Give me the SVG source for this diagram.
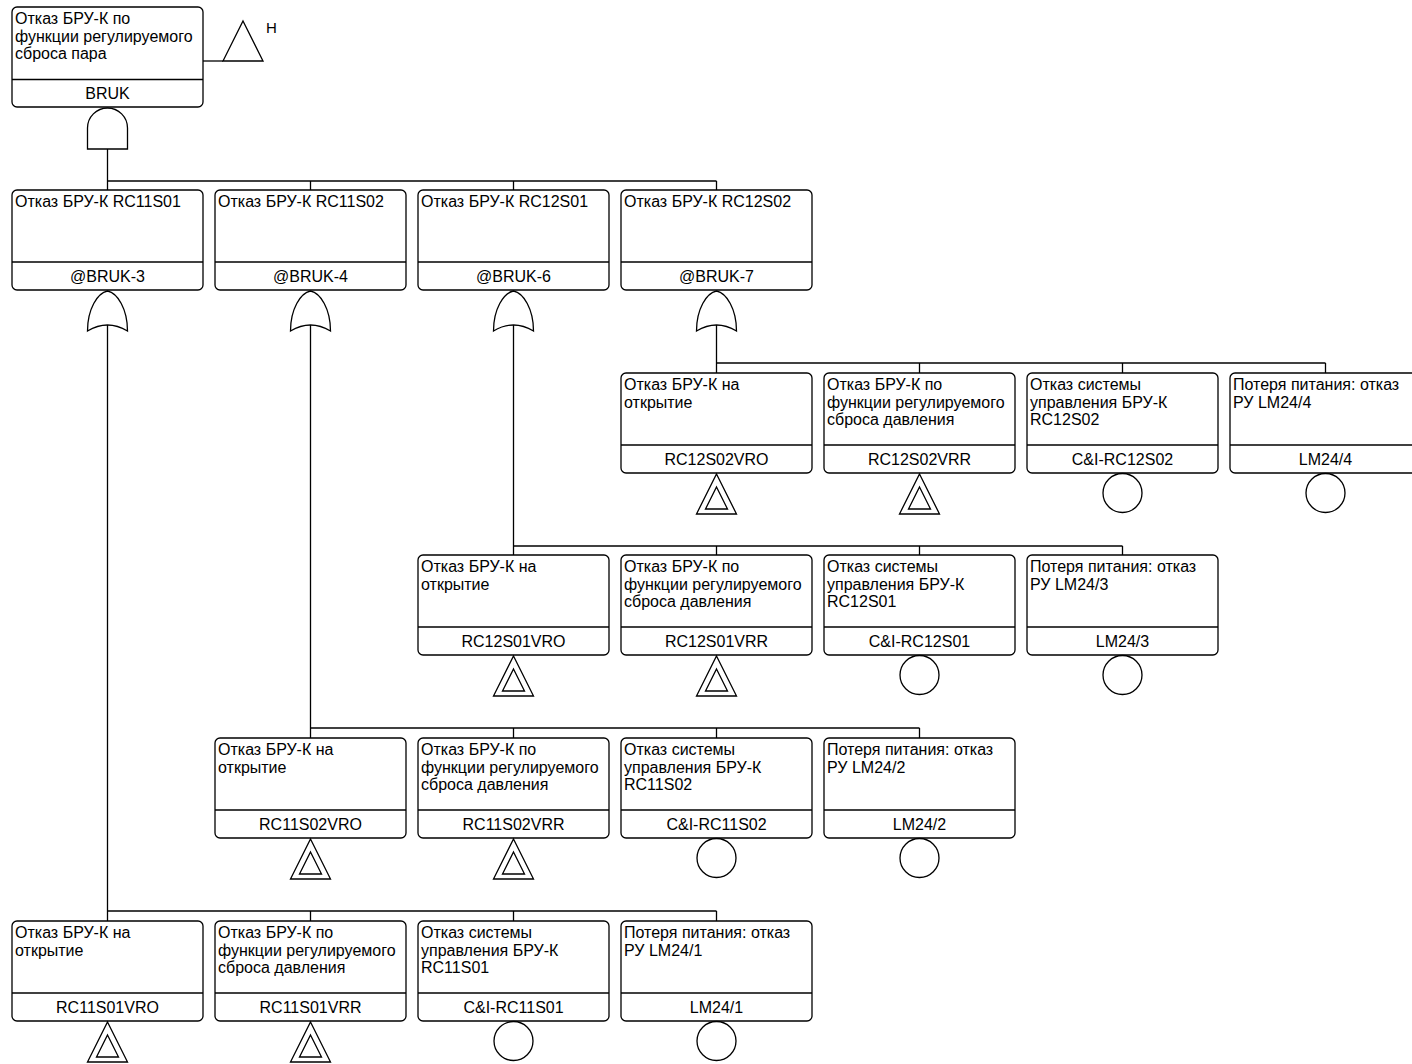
<svg xmlns="http://www.w3.org/2000/svg" xmlns:xlink="http://www.w3.org/1999/xlink" width="1412" height="1064" viewBox="0 0 1412 1064">
<style>
rect.b{fill:#fff;stroke:#000;stroke-width:1.3}
line,path,polygon,circle{fill:none;stroke:#000;stroke-width:1.3}
text{font-family:"Liberation Sans",Arial,sans-serif;font-size:16px;fill:#000}
text.c{text-anchor:middle}
</style>
<defs>
<path id="and" d="M-20,41 V20 A20,20 0 0 1 20,20 V41 Z"/>
<path id="or" d="M-20,40 C-20,18 -10,2 0,0 C10,2 20,18 20,40 Q0,28 -20,40 Z"/>
<g id="tin"><polygon points="0,0 20,40 -20,40"/><polygon points="0,13 11,35 -11,35"/></g>
<circle id="bas" cx="0" cy="20" r="19.5"/>
</defs>
<rect width="1412" height="1064" fill="#fff"/>
<g id="connectors">
<line x1="203" y1="61" x2="223" y2="61"/>
<line x1="107.5" y1="149" x2="107.5" y2="181"/>
<line x1="107.5" y1="181" x2="716.5" y2="181"/>
<line x1="310.5" y1="181" x2="310.5" y2="190"/>
<line x1="513.5" y1="181" x2="513.5" y2="190"/>
<line x1="716.5" y1="181" x2="716.5" y2="190"/>
<line x1="107.5" y1="181" x2="107.5" y2="190"/>
<line x1="107.5" y1="325" x2="107.5" y2="921"/>
<line x1="310.5" y1="325" x2="310.5" y2="738"/>
<line x1="513.5" y1="325" x2="513.5" y2="555"/>
<line x1="716.5" y1="325" x2="716.5" y2="373"/>
<line x1="716.5" y1="363" x2="1325.5" y2="363"/>
<line x1="919.5" y1="363" x2="919.5" y2="373"/>
<line x1="1122.5" y1="363" x2="1122.5" y2="373"/>
<line x1="1325.5" y1="363" x2="1325.5" y2="373"/>
<line x1="513.5" y1="546" x2="1122.5" y2="546"/>
<line x1="716.5" y1="546" x2="716.5" y2="555"/>
<line x1="919.5" y1="546" x2="919.5" y2="555"/>
<line x1="1122.5" y1="546" x2="1122.5" y2="555"/>
<line x1="310.5" y1="728" x2="919.5" y2="728"/>
<line x1="513.5" y1="728" x2="513.5" y2="738"/>
<line x1="716.5" y1="728" x2="716.5" y2="738"/>
<line x1="919.5" y1="728" x2="919.5" y2="738"/>
<line x1="107.5" y1="911" x2="716.5" y2="911"/>
<line x1="310.5" y1="911" x2="310.5" y2="921"/>
<line x1="513.5" y1="911" x2="513.5" y2="921"/>
<line x1="716.5" y1="911" x2="716.5" y2="921"/>
</g>

<g id="BRUK">
<rect class="b" x="12" y="7" width="191" height="100" rx="5"/>
<line x1="12" y1="79.5" x2="203" y2="79.5"/>
<text x="15" y="24">Отказ БРУ-К по</text>
<text x="15" y="41.5">функции регулируемого</text>
<text x="15" y="59">сброса пара</text>
<text class="c" x="107.5" y="98.5">BRUK</text>
<use href="#and" x="107.5" y="108"/>
<polygon points="243,21 263,61 223,61"/>
<text x="266" y="33" style="font-size:15px">H</text>
</g>

<g id="BRUK-3">
<rect class="b" x="12" y="190" width="191" height="100" rx="5"/>
<line x1="12" y1="262" x2="203" y2="262"/>
<text x="15" y="207">Отказ БРУ-К RC11S01</text>
<text class="c" x="107.5" y="281.5">@BRUK-3</text>
<use href="#or" x="107.5" y="291"/>
</g>
<g id="BRUK-4">
<rect class="b" x="215" y="190" width="191" height="100" rx="5"/>
<line x1="215" y1="262" x2="406" y2="262"/>
<text x="218" y="207">Отказ БРУ-К RC11S02</text>
<text class="c" x="310.5" y="281.5">@BRUK-4</text>
<use href="#or" x="310.5" y="291"/>
</g>
<g id="BRUK-6">
<rect class="b" x="418" y="190" width="191" height="100" rx="5"/>
<line x1="418" y1="262" x2="609" y2="262"/>
<text x="421" y="207">Отказ БРУ-К RC12S01</text>
<text class="c" x="513.5" y="281.5">@BRUK-6</text>
<use href="#or" x="513.5" y="291"/>
</g>
<g id="BRUK-7">
<rect class="b" x="621" y="190" width="191" height="100" rx="5"/>
<line x1="621" y1="262" x2="812" y2="262"/>
<text x="624" y="207">Отказ БРУ-К RC12S02</text>
<text class="c" x="716.5" y="281.5">@BRUK-7</text>
<use href="#or" x="716.5" y="291"/>
</g>

<g id="RC12S02VRO">
<rect class="b" x="621" y="373" width="191" height="100" rx="5"/>
<line x1="621" y1="445" x2="812" y2="445"/>
<text x="624" y="390">Отказ БРУ-К на</text>
<text x="624" y="407.5">открытие</text>
<text class="c" x="716.5" y="464.5">RC12S02VRO</text>
<use href="#tin" x="716.5" y="474"/>
</g>
<g id="RC12S02VRR">
<rect class="b" x="824" y="373" width="191" height="100" rx="5"/>
<line x1="824" y1="445" x2="1015" y2="445"/>
<text x="827" y="390">Отказ БРУ-К по</text>
<text x="827" y="407.5">функции регулируемого</text>
<text x="827" y="425">сброса давления</text>
<text class="c" x="919.5" y="464.5">RC12S02VRR</text>
<use href="#tin" x="919.5" y="474"/>
</g>
<g id="CI-RC12S02">
<rect class="b" x="1027" y="373" width="191" height="100" rx="5"/>
<line x1="1027" y1="445" x2="1218" y2="445"/>
<text x="1030" y="390">Отказ системы</text>
<text x="1030" y="407.5">управления БРУ-К</text>
<text x="1030" y="425">RC12S02</text>
<text class="c" x="1122.5" y="464.5">C&amp;I-RC12S02</text>
<use href="#bas" x="1122.5" y="473"/>
</g>
<g id="LM24-4">
<rect class="b" x="1230" y="373" width="191" height="100" rx="5"/>
<line x1="1230" y1="445" x2="1421" y2="445"/>
<text x="1233" y="390">Потеря питания: отказ</text>
<text x="1233" y="407.5">РУ LM24/4</text>
<text class="c" x="1325.5" y="464.5">LM24/4</text>
<use href="#bas" x="1325.5" y="473"/>
</g>

<g id="RC12S01VRO">
<rect class="b" x="418" y="555" width="191" height="100" rx="5"/>
<line x1="418" y1="627" x2="609" y2="627"/>
<text x="421" y="572">Отказ БРУ-К на</text>
<text x="421" y="589.5">открытие</text>
<text class="c" x="513.5" y="646.5">RC12S01VRO</text>
<use href="#tin" x="513.5" y="656"/>
</g>
<g id="RC12S01VRR">
<rect class="b" x="621" y="555" width="191" height="100" rx="5"/>
<line x1="621" y1="627" x2="812" y2="627"/>
<text x="624" y="572">Отказ БРУ-К по</text>
<text x="624" y="589.5">функции регулируемого</text>
<text x="624" y="607">сброса давления</text>
<text class="c" x="716.5" y="646.5">RC12S01VRR</text>
<use href="#tin" x="716.5" y="656"/>
</g>
<g id="CI-RC12S01">
<rect class="b" x="824" y="555" width="191" height="100" rx="5"/>
<line x1="824" y1="627" x2="1015" y2="627"/>
<text x="827" y="572">Отказ системы</text>
<text x="827" y="589.5">управления БРУ-К</text>
<text x="827" y="607">RC12S01</text>
<text class="c" x="919.5" y="646.5">C&amp;I-RC12S01</text>
<use href="#bas" x="919.5" y="655"/>
</g>
<g id="LM24-3">
<rect class="b" x="1027" y="555" width="191" height="100" rx="5"/>
<line x1="1027" y1="627" x2="1218" y2="627"/>
<text x="1030" y="572">Потеря питания: отказ</text>
<text x="1030" y="589.5">РУ LM24/3</text>
<text class="c" x="1122.5" y="646.5">LM24/3</text>
<use href="#bas" x="1122.5" y="655"/>
</g>

<g id="RC11S02VRO">
<rect class="b" x="215" y="738" width="191" height="100" rx="5"/>
<line x1="215" y1="810" x2="406" y2="810"/>
<text x="218" y="755">Отказ БРУ-К на</text>
<text x="218" y="772.5">открытие</text>
<text class="c" x="310.5" y="829.5">RC11S02VRO</text>
<use href="#tin" x="310.5" y="839"/>
</g>
<g id="RC11S02VRR">
<rect class="b" x="418" y="738" width="191" height="100" rx="5"/>
<line x1="418" y1="810" x2="609" y2="810"/>
<text x="421" y="755">Отказ БРУ-К по</text>
<text x="421" y="772.5">функции регулируемого</text>
<text x="421" y="790">сброса давления</text>
<text class="c" x="513.5" y="829.5">RC11S02VRR</text>
<use href="#tin" x="513.5" y="839"/>
</g>
<g id="CI-RC11S02">
<rect class="b" x="621" y="738" width="191" height="100" rx="5"/>
<line x1="621" y1="810" x2="812" y2="810"/>
<text x="624" y="755">Отказ системы</text>
<text x="624" y="772.5">управления БРУ-К</text>
<text x="624" y="790">RC11S02</text>
<text class="c" x="716.5" y="829.5">C&amp;I-RC11S02</text>
<use href="#bas" x="716.5" y="838"/>
</g>
<g id="LM24-2">
<rect class="b" x="824" y="738" width="191" height="100" rx="5"/>
<line x1="824" y1="810" x2="1015" y2="810"/>
<text x="827" y="755">Потеря питания: отказ</text>
<text x="827" y="772.5">РУ LM24/2</text>
<text class="c" x="919.5" y="829.5">LM24/2</text>
<use href="#bas" x="919.5" y="838"/>
</g>

<g id="RC11S01VRO">
<rect class="b" x="12" y="921" width="191" height="100" rx="5"/>
<line x1="12" y1="993" x2="203" y2="993"/>
<text x="15" y="938">Отказ БРУ-К на</text>
<text x="15" y="955.5">открытие</text>
<text class="c" x="107.5" y="1012.5">RC11S01VRO</text>
<use href="#tin" x="107.5" y="1022"/>
</g>
<g id="RC11S01VRR">
<rect class="b" x="215" y="921" width="191" height="100" rx="5"/>
<line x1="215" y1="993" x2="406" y2="993"/>
<text x="218" y="938">Отказ БРУ-К по</text>
<text x="218" y="955.5">функции регулируемого</text>
<text x="218" y="973">сброса давления</text>
<text class="c" x="310.5" y="1012.5">RC11S01VRR</text>
<use href="#tin" x="310.5" y="1022"/>
</g>
<g id="CI-RC11S01">
<rect class="b" x="418" y="921" width="191" height="100" rx="5"/>
<line x1="418" y1="993" x2="609" y2="993"/>
<text x="421" y="938">Отказ системы</text>
<text x="421" y="955.5">управления БРУ-К</text>
<text x="421" y="973">RC11S01</text>
<text class="c" x="513.5" y="1012.5">C&amp;I-RC11S01</text>
<use href="#bas" x="513.5" y="1021"/>
</g>
<g id="LM24-1">
<rect class="b" x="621" y="921" width="191" height="100" rx="5"/>
<line x1="621" y1="993" x2="812" y2="993"/>
<text x="624" y="938">Потеря питания: отказ</text>
<text x="624" y="955.5">РУ LM24/1</text>
<text class="c" x="716.5" y="1012.5">LM24/1</text>
<use href="#bas" x="716.5" y="1021"/>
</g>
</svg>
